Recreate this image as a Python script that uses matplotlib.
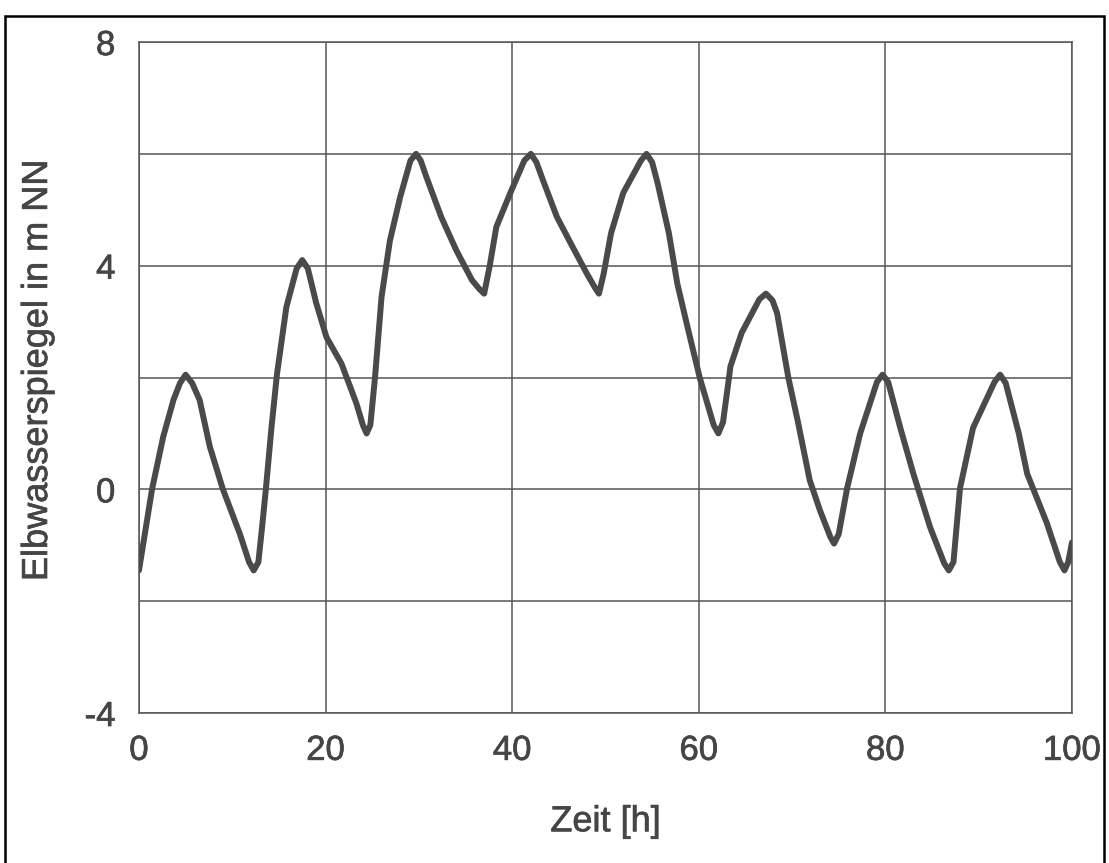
import matplotlib.pyplot as plt
import matplotlib.patheffects as pe
from matplotlib.patches import Rectangle

# Water level of the Elbe over time
zeit = [0, 1.4, 2.6, 3.7, 4.4, 5.0, 5.7, 6.5, 7.6, 9.0, 10.8, 11.8, 12.3, 12.8,
        13.2, 13.6, 14.2, 14.8, 15.8, 16.9, 17.5, 18.1, 19.0, 20.1, 21.7, 23.3,
        24.0, 24.4, 24.8, 25.3, 26.0, 26.9, 28.0, 29.1, 29.7, 30.2, 30.8, 32.4, 34.0, 35.7,
        36.5, 37.0, 37.6, 38.3, 39.8, 41.3, 42.0, 42.6, 43.3, 44.8, 46.5, 48.0,
        48.9, 49.3, 49.8, 50.6, 51.9, 53.8, 54.4, 55.0, 55.6, 56.8, 57.7, 58.8, 60.1,
        61.6, 62.1, 62.6, 63.4, 64.6, 66.5, 67.2, 67.9, 68.4, 69.6, 70.6, 71.9, 73.0,
        74.1, 74.5, 75.0, 75.9, 77.3, 79.1, 79.7, 80.3, 81.6, 83.0, 84.8, 86.3,
        86.8, 87.3, 88.0, 89.4, 91.7, 92.3, 92.9, 94.3, 95.2, 97.3, 98.7, 99.2, 99.6, 100]
pegel = [-1.45, 0.0, 0.94, 1.6, 1.9, 2.05, 1.9, 1.6, 0.76, 0.0, -0.79, -1.3, -1.45, -1.3,
         -0.67, 0.0, 1.1, 2.07, 3.26, 3.95, 4.1, 3.95, 3.33, 2.72, 2.25, 1.54,
         1.15, 1.0, 1.15, 2.0, 3.44, 4.45, 5.23, 5.88, 6.0, 5.88, 5.59, 4.87, 4.28, 3.74,
         3.58, 3.5, 4.0, 4.69, 5.3, 5.88, 6.0, 5.85, 5.53, 4.87, 4.33, 3.86,
         3.6, 3.5, 3.85, 4.58, 5.3, 5.88, 6.0, 5.85, 5.47, 4.58, 3.68, 2.9, 2.0,
         1.15, 1.0, 1.2, 2.2, 2.8, 3.4, 3.5, 3.38, 3.15, 2.0, 1.23, 0.16, -0.38,
         -0.85, -0.97, -0.8, 0.02, 1.0, 1.92, 2.05, 1.92, 1.1, 0.28, -0.68, -1.32,
         -1.45, -1.3, 0.02, 1.1, 1.92, 2.05, 1.9, 1.0, 0.28, -0.6, -1.3, -1.45, -1.3, -0.95]

x_ticks = [0, 20, 40, 60, 80, 100]
y_ticks = [-4, 0, 4, 8]
y_grid = [-2, 2, 6]

plt.rcParams["font.family"] = ["Liberation Sans", "DejaVu Sans"]
plt.rcParams["axes.unicode_minus"] = False
txt_col = "#454545"
grid_col = "#555555"
heavy = [pe.withStroke(linewidth=0.5, foreground=txt_col)]

fig = plt.figure(figsize=(11.09, 8.63), dpi=100)
ax = fig.add_axes([0.1253, 0.1738, 0.8413, 0.7775])

ax.plot(zeit, pegel, color="#4a4a4a", lw=4.3, solid_capstyle="round", solid_joinstyle="round", zorder=3)

ax.set_xlim(0, 100)
ax.set_ylim(-4, 8)
ax.set_xticks(x_ticks)
ax.set_yticks(y_ticks)
ax.set_yticks(y_grid, minor=True)
ax.grid(True, which="both", color=grid_col, lw=1.1)
ax.tick_params(which="both", length=0, labelsize=25, labelcolor=txt_col)
ax.tick_params(axis="x", pad=15)
ax.tick_params(axis="y", pad=17)
for lab in ax.get_xticklabels() + ax.get_yticklabels():
    lab.set_path_effects(heavy)
for s in ax.spines.values():
    s.set_color(grid_col)
    s.set_linewidth(1.1)

ax.set_xlabel("Zeit [h]", fontsize=26, color=txt_col, path_effects=heavy)
ax.xaxis.set_label_coords(0.5, -0.136)
ax.set_ylabel("Elbwasserspiegel in m NN", fontsize=26, color=txt_col, path_effects=heavy)
ax.yaxis.set_label_coords(-0.09, 0.51)

# black frame around the whole scan
fig.patches.append(Rectangle((5 / 1109, -0.01), 1099 / 1109, 0.004 + 852 / 863,
                             transform=fig.transFigure, fill=False, ec="black", lw=1.8))

fig.savefig("out.png", dpi=100)
